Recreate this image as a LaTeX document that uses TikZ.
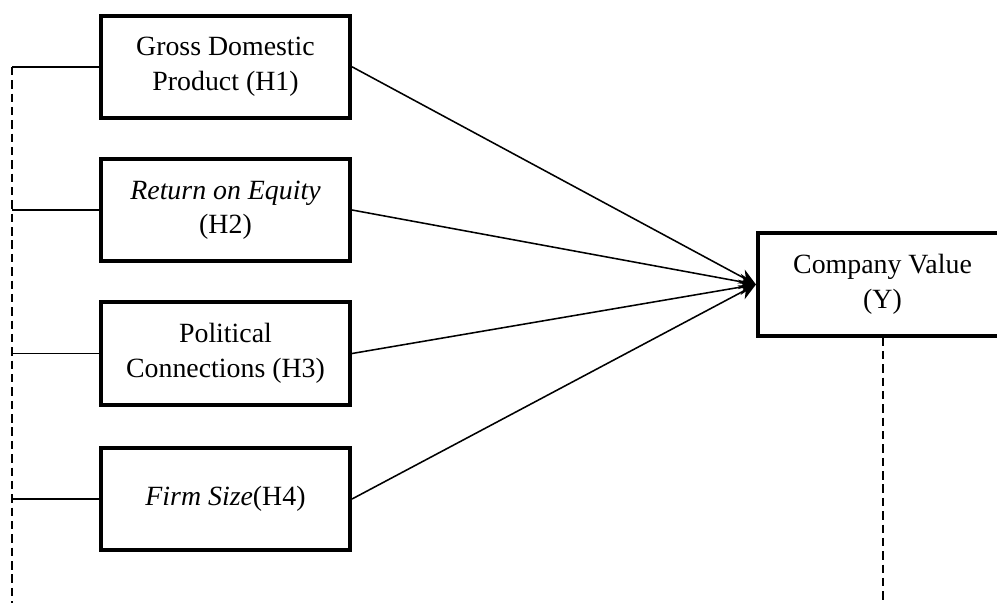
\documentclass[tikz,border=0pt]{standalone}
\usepackage{fontspec}
\setmainfont{Liberation Serif}
\usetikzlibrary{arrows.meta}

\tikzset{
  varbox/.style={draw, line width=2.85pt, minimum width=6.225cm, minimum height=2.55cm,
                 inner sep=0pt, align=center, font=\fontsize{19.8}{24.5}\selectfont},
  link/.style={line width=1.1pt},
  spine/.style={line width=1.4pt, dash pattern=on 6pt off 3.5pt}
}

\begin{document}
\begin{tikzpicture}[x=0.025cm, y=-0.025cm]

\clip (0,0) rectangle (997,603);

\node[varbox] (gdp) at (225.5,66.8)  {Gross Domestic\\Product (H1)};
\node[varbox] (roe) at (225.5,210)   {\textit{Return on Equity}\\(H2)};
\node[varbox] (pol) at (225.5,353.5) {Political\\Connections (H3)};
\node[varbox] (fsz) at (225.5,499)   {\textit{Firm Size}(H4)};

\node[varbox] (cv) at (882.5,284.5) {Company Value\\(Y)};

\coordinate (stop)  at (12,66.8);
\coordinate (sfoot) at (12,603);
\coordinate (rfoot) at (882.5,603);

% dashed guides
\draw[spine] (stop) -- (sfoot);
\draw[spine] (cv.south) -- (rfoot);

\draw[link] (gdp.west) -- (gdp.west -| stop);
\draw[link] (roe.west) -- (roe.west -| stop);
\draw[link] (pol.west) -- (pol.west -| stop);
\draw[link] (fsz.west) -- (fsz.west -| stop);

\draw[link, -{Stealth[length=12pt, width=11pt]}] (gdp.east) -- (cv.west);
\draw[link, -{Stealth[length=12pt, width=11pt]}] (roe.east) -- (cv.west);
\draw[link, -{Stealth[length=12pt, width=11pt]}] (pol.east) -- (cv.west);
\draw[link, -{Stealth[length=12pt, width=11pt]}] (fsz.east) -- (cv.west);

\end{tikzpicture}
\end{document}
